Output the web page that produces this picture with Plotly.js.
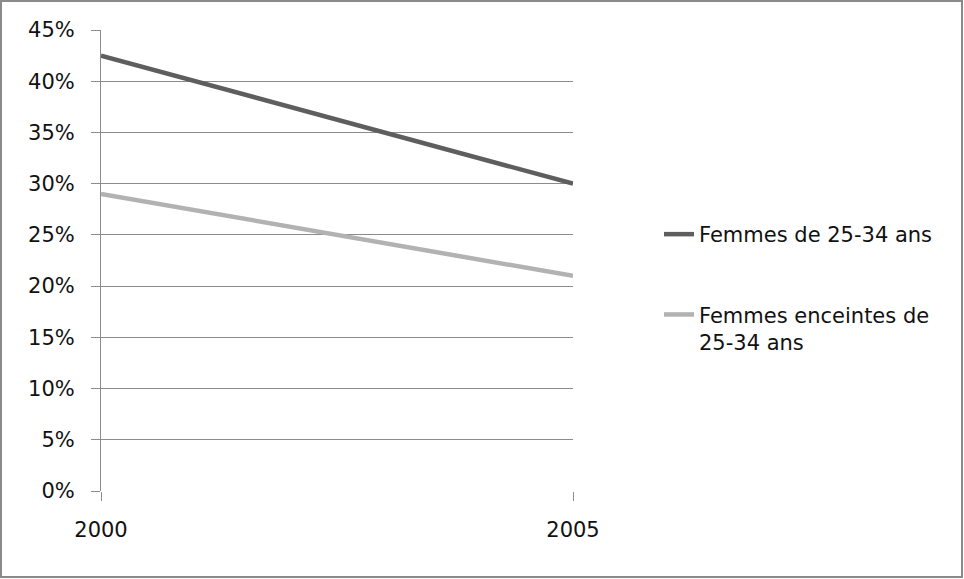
<!DOCTYPE html>
<html>
<head>
<meta charset="utf-8">
<script src="https://cdn.plot.ly/plotly-3.0.1.min.js"></script>
<style>
  html, body { margin: 0; padding: 0; background: #ffffff; }
  #chart { width: 964px; height: 579px; }
</style>
</head>
<body>
<div id="chart"></div>
<script>
// Years on the horizontal axis
const years = [2000, 2005];

// Share of women in each group (fractions)
const femmes2534 = [0.425, 0.30];
const enceintes2534 = [0.29, 0.21];

// Series names
const seriesNames = ['Femmes de 25-34 ans', 'Femmes enceintes de<br>25-34 ans'];

// Y axis ticks
const yTicks = [0, 0.05, 0.10, 0.15, 0.20, 0.25, 0.30, 0.35, 0.40, 0.45];

const W = 964, H = 579;
const margin = { l: 101, r: 391, t: 30, b: 88 };
const plotW = W - margin.l - margin.r;
const plotH = H - margin.t - margin.b;

const font = { family: 'DejaVu Sans, sans-serif', size: 21, color: '#111111' };

const traces = [
  {
    x: years, y: femmes2534, name: seriesNames[0], type: 'scatter', mode: 'lines',
    line: { color: '#5e5e5e', width: 4.5 }, legendgroup: 'a', cliponaxis: false
  },
  {
    x: years, y: enceintes2534, name: seriesNames[1], type: 'scatter', mode: 'lines',
    line: { color: '#b2b2b2', width: 4.5 }, legendgroup: 'b', cliponaxis: false
  }
];

// Frame around the whole figure, expressed in paper units
const px2x = p => (p - margin.l) / plotW;
const px2y = p => (H - margin.b - p) / plotH;

const layout = {
  width: W, height: H,
  margin: margin,
  paper_bgcolor: '#ffffff',
  plot_bgcolor: '#ffffff',
  font: font,
  showlegend: true,
  legend: {
    x: px2x(659), y: px2y(214), xanchor: 'left', yanchor: 'top',
    traceorder: 'grouped', tracegroupgap: 50, valign: 'top',
    font: font, bgcolor: 'rgba(0,0,0,0)'
  },
  xaxis: {
    range: [2000, 2005], tickvals: years, ticktext: years.map(String),
    showgrid: false, zeroline: false, showline: false,
    ticks: 'outside', ticklen: 9, tickcolor: '#8c8c8c', tickwidth: 1,
    tickfont: font, ticklabelstandoff: 11, fixedrange: true
  },
  yaxis: {
    range: [0, 0.45], tickvals: yTicks, tickformat: '.0%',
    showgrid: true, gridcolor: '#8c8c8c', gridwidth: 1,
    zeroline: false, showline: true, linecolor: '#8c8c8c', linewidth: 1,
    ticks: 'outside', ticklen: 9, tickcolor: '#8c8c8c', tickwidth: 1,
    tickfont: font, ticklabelstandoff: 12, fixedrange: true
  },
  shapes: [
    {
      type: 'rect', xref: 'paper', yref: 'paper',
      x0: px2x(1), x1: px2x(962), y0: px2y(1), y1: px2y(577),
      line: { color: '#8a8a8a', width: 2 }, fillcolor: 'rgba(0,0,0,0)', layer: 'below'
    }
  ]
};

Plotly.newPlot('chart', traces, layout, { displayModeBar: false, staticPlot: true });
</script>
</body>
</html>
